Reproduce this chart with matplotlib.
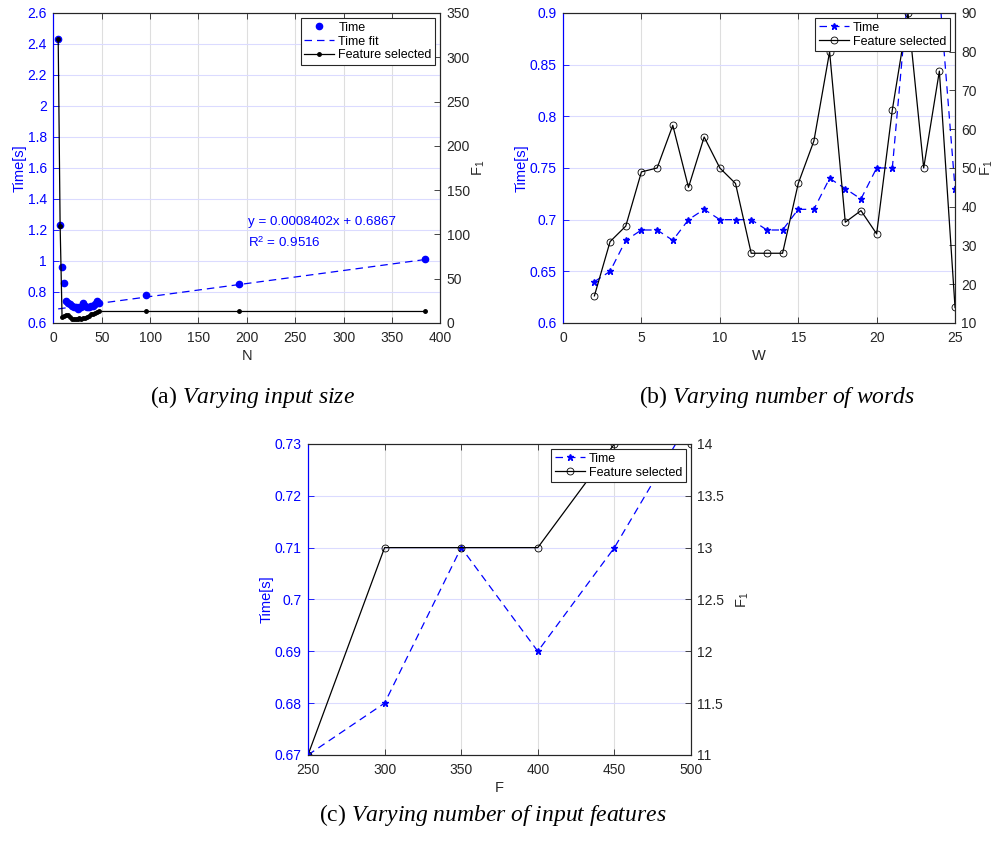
import matplotlib
matplotlib.use('Agg')
import matplotlib.pyplot as plt
import numpy as np

plt.rcParams['font.family'] = ['Liberation Sans', 'DejaVu Sans']
plt.rcParams['mathtext.fontset'] = 'custom'
plt.rcParams['mathtext.rm'] = 'Liberation Serif'
plt.rcParams['mathtext.it'] = 'Liberation Serif:italic'
plt.rcParams['mathtext.sf'] = 'Liberation Sans'

# (a) varying input size
n_sizes = [5, 7, 9, 11, 13, 15, 17, 19, 21, 23, 25, 27, 29, 31, 33, 35, 37, 39,
           41, 43, 45, 47, 96, 192, 384]
time_a = [2.43, 1.23, 0.96, 0.86, 0.74, 0.73, 0.72, 0.71, 0.70, 0.70, 0.69, 0.70,
          0.70, 0.73, 0.71, 0.70, 0.70, 0.71, 0.71, 0.72, 0.74, 0.73, 0.78, 0.85, 1.01]
feat_a = [321, 110, 7, 8, 9, 9, 7, 4, 5, 4, 5, 6, 5, 6, 6, 7, 8, 10, 10, 11, 12, 13,
          13, 13, 13]
fit_slope = 0.0008402
fit_icpt = 0.6867
fit_r2 = 0.9516

# (b) varying number of words
n_words = list(range(2, 26))
time_b = [0.64, 0.65, 0.68, 0.69, 0.69, 0.68, 0.70, 0.71, 0.70, 0.70, 0.70, 0.69,
          0.69, 0.71, 0.71, 0.74, 0.73, 0.72, 0.75, 0.75, 0.92, 1.0, 0.92, 0.73]
feat_b = [17, 31, 35, 49, 50, 61, 45, 58, 50, 46, 28, 28, 28, 46, 57, 80, 36, 39,
          33, 65, 90, 50, 75, 14]

# (c) varying number of input features
n_feats = [250, 300, 350, 400, 450, 500]
time_c = [0.67, 0.68, 0.71, 0.69, 0.71, 0.735]
feat_c = [11, 13, 13, 13, 14, 14]

BLUE = (0, 0, 1)
DARK = (0.15, 0.15, 0.15)
TICK_FS = 10
LAB_FS = 10.5
LEG_FS = 9


def setup(ax, ax2, xlim, xticks, ylim, yticks, y2lim, y2ticks, xlabel,
          ylab_x, y2lab_x, fmt=None):
    ax.set_xlim(*xlim)
    ax.set_ylim(*ylim)
    ax2.set_ylim(*y2lim)
    ax.set_xticks(xticks)
    ax.set_yticks(yticks)
    ax2.set_yticks(y2ticks)
    if fmt:
        ax.set_yticklabels([fmt(v) for v in yticks])
    ax.xaxis.grid(True, color=(0.87, 0.87, 0.87), lw=0.8)
    ax.yaxis.grid(True, color=(0.86, 0.86, 1.0), lw=0.8)
    ax.set_axisbelow(True)
    ax.tick_params(axis='x', direction='in', length=4, top=True, colors=DARK,
                   labelsize=TICK_FS, labelcolor=DARK, width=0.6, pad=6)
    ax.tick_params(axis='y', direction='in', length=4, colors=BLUE,
                   labelsize=TICK_FS, width=0.6, pad=4.5)
    ax2.tick_params(axis='y', direction='in', length=4, colors=DARK,
                    labelsize=TICK_FS, width=0.6, pad=4.5)
    for a in (ax, ax2):
        for s in ('top', 'bottom', 'right'):
            a.spines[s].set_color(DARK)
            a.spines[s].set_linewidth(0.8)
        a.spines['left'].set_color(BLUE)
        a.spines['left'].set_linewidth(0.8)
    ax.set_xlabel(xlabel, fontsize=LAB_FS, color=DARK, labelpad=3)
    ax.set_ylabel('Time[s]', fontsize=LAB_FS, color=BLUE)
    ax.yaxis.set_label_coords(ylab_x, 0.5)
    ax2.set_ylabel(r'F$_\mathsf{1}$', fontsize=LAB_FS, color=DARK)
    ax2.yaxis.set_label_coords(y2lab_x, 0.5)


def legend(ax2, handles, labels):
    leg = ax2.legend(handles, labels, loc='upper right', fontsize=LEG_FS,
                     fancybox=False, framealpha=1, edgecolor=DARK,
                     borderaxespad=0.4, borderpad=0.3, labelspacing=0.15,
                     handlelength=2.4, handletextpad=0.3)
    leg.get_frame().set_linewidth(0.8)


fig = plt.figure(figsize=(9.99, 8.44), dpi=100)

# panel (a)
ax = fig.add_axes([0.0534, 0.6173, 0.3874, 0.3673])
ax2 = ax.twinx()
fit_x = np.array([n_sizes[0], n_sizes[-1]])
h_fit, = ax.plot(fit_x, fit_slope * fit_x + fit_icpt, '--', color=BLUE, lw=0.9,
                 dashes=(6, 4))
h_time, = ax.plot(n_sizes, time_a, 'o', color=BLUE, ms=4.5, ls='none')
h_feat, = ax2.plot(n_sizes, feat_a, '-', color='black', lw=0.9, marker='.', ms=5)
ax.text(201, 1.25, 'y = %.7fx + %.4f' % (fit_slope, fit_icpt), color=BLUE,
        fontsize=9.6, va='center')
ax.text(201, 1.12, r'R$^\mathsf{2}$ = %.4f' % fit_r2, color=BLUE,
        fontsize=9.6, va='center')
setup(ax, ax2, (0, 400), range(0, 401, 50), (0.6, 2.6),
      np.arange(0.6, 2.61, 0.2), (0, 350), range(0, 351, 50), 'N',
      -0.07, 1.08, fmt=lambda v: ('%.1f' % v).rstrip('0').rstrip('.'))
legend(ax2, [h_time, h_fit, h_feat], ['Time', 'Time fit', 'Feature selected'])

# panel (b)
ax = fig.add_axes([0.5636, 0.6173, 0.3924, 0.3673])
ax2 = ax.twinx()
h_time, = ax.plot(n_words, time_b, '--', color=BLUE, lw=0.9, marker='*', ms=5,
                  dashes=(6, 4))
h_feat, = ax2.plot(n_words, feat_b, '-', color='black', lw=0.9, marker='o', ms=5,
                   mfc='none', mew=0.6)
setup(ax, ax2, (0, 25), range(0, 26, 5), (0.6, 0.9),
      np.arange(0.6, 0.91, 0.05), (10, 90), range(10, 91, 10), 'W',
      -0.088, 1.062, fmt=lambda v: ('%.2f' % v).rstrip('0').rstrip('.'))
legend(ax2, [h_time, h_feat], ['Time', 'Feature selected'])

# panel (c)
ax = fig.add_axes([0.3083, 0.1055, 0.3834, 0.3685])
ax2 = ax.twinx()
h_time, = ax.plot(n_feats, time_c, '--', color=BLUE, lw=0.9, marker='*', ms=5,
                  dashes=(6, 4))
h_feat, = ax2.plot(n_feats, feat_c, '-', color='black', lw=0.9, marker='o', ms=5,
                   mfc='none', mew=0.6)
setup(ax, ax2, (250, 500), range(250, 501, 50), (0.67, 0.73),
      np.arange(0.67, 0.7301, 0.01), (11, 14), np.arange(11, 14.01, 0.5), 'F',
      -0.09, 1.114, fmt=lambda v: ('%.2f' % v).rstrip('0').rstrip('.'))
ax2.set_yticklabels(['11', '11.5', '12', '12.5', '13', '13.5', '14'])
legend(ax2, [h_time, h_feat], ['Time', 'Feature selected'])

# captions
cap = dict(fontsize=17, ha='center', va='center', family='Liberation Serif')
fig.text(0.253, 0.5296, r'(a) $\mathit{Varying\ input\ size}$', **cap)
fig.text(0.778, 0.5296, r'(b) $\mathit{Varying\ number\ of\ words}$', **cap)
fig.text(0.493, 0.0344, r'(c) $\mathit{Varying\ number\ of\ input\ features}$', **cap)

fig.savefig('out.png', dpi=100)
